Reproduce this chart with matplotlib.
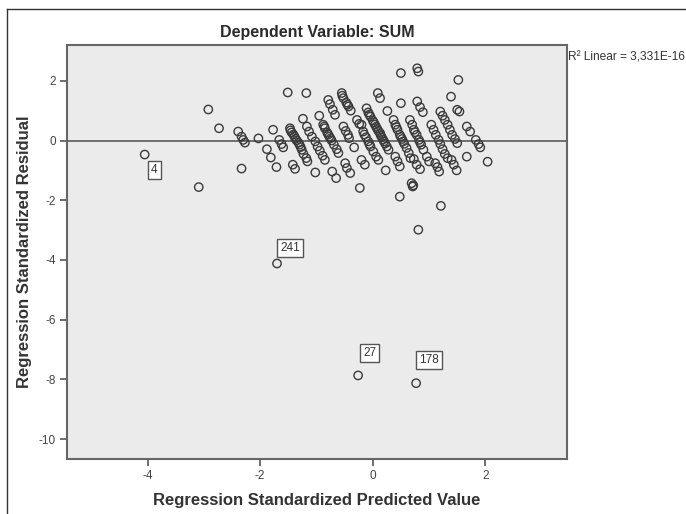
import matplotlib
matplotlib.use('Agg')
import matplotlib.pyplot as plt
from matplotlib.lines import Line2D

#DATA
PRED = [-4.05, -3.09, -2.92, -2.73, -2.39, -2.33, -2.30, -2.27, -2.33, -2.03,
        -1.88, -1.81, -1.71, -1.77, -1.66, -1.62, -1.59, -1.51, -1.18, -1.42, -1.38,
        -1.47, -1.44, -1.39, -1.35, -1.30, -1.26, -1.23, -1.18, -1.16,
        -1.46, -1.41, -1.37, -1.32, -1.28,
        -1.24,
        -1.17, -1.13, -1.08, -1.02, -0.98, -0.94, -0.89, -0.85,
        -1.02, -0.95,
        -0.79, -0.76, -0.71, -0.67,
        -0.88, -0.85, -0.81, -0.77, -0.73, -0.69, -0.64, -0.61, -0.86, -0.79, -0.75,
        -0.72, -0.65,
        -0.55, -0.52, -0.47, -0.43, -0.39, -0.54, -0.45,
        -0.52, -0.48, -0.44, -0.42,
        -0.33,
        -0.49, -0.46, -0.40,
        -0.23,
        -0.28, -0.24,
        -0.11, -0.08, -0.04, 0.00, 0.04, 0.08, 0.13, 0.16, 0.20, 0.25, 0.28,
        -0.06, 0.02, 0.06, 0.10, 0.14, 0.18, 0.22,
        -0.20, -0.17, -0.12, -0.08, -0.04, 0.01, 0.06, 0.10, -0.15, -0.06,
        -0.20, -0.14,
        0.09, 0.13, 0.26, 0.23,
        0.37, 0.40, 0.44, 0.48, 0.52, 0.56, 0.60, 0.64, 0.67, 0.42, 0.50, 0.54,
        0.40, 0.44, 0.48,
        0.50, 0.50, 0.79, 0.81, 0.48,
        0.66, 0.70, 0.73, 0.78, 0.82, 0.86, 0.90, 0.96, 1.00, 0.75, 0.84,
        0.73, 0.78, 0.84,
        0.79, 0.84, 0.89,
        0.69, 0.71, 0.72,
        1.04, 1.08, 1.12, 1.17, 1.20, 1.24, 1.28, 1.33,
        1.11, 1.15, 1.18,
        1.20, 1.24, 1.28, 1.33, 1.37, 1.41, 1.46, 1.50,
        1.39, 1.52, 1.50, 1.54,
        1.40, 1.44, 1.49,
        1.67, 1.73, 1.67,
        1.83, 1.88, 1.91, 2.04,
        0.81, 1.21,
        -1.70, -0.26, 0.77]

RESID = [-0.47, -1.56, 1.04, 0.41, 0.30, 0.13, 0.02, -0.07, -0.94, 0.07,
         -0.29, -0.57, -0.89, 0.36, 0.02, -0.12, -0.23, 1.61, 1.59, -0.81, -0.95,
         0.41, 0.27, 0.13, 0.00, -0.14, -0.31, -0.45, -0.59, -0.70,
         0.34, 0.20, 0.06, -0.07, -0.22,
         0.73,
         0.47, 0.30, 0.13, -0.03, -0.20, -0.34, -0.51, -0.65,
         -1.07, 0.83,
         1.36, 1.22, 1.03, 0.86,
         0.53, 0.41, 0.27, 0.13, 0.00, -0.14, -0.29, -0.42, 0.47, 0.20, 0.07,
         -1.04, -1.26,
         1.59, 1.42, 1.27, 1.14, 1.00, 1.50, 1.20,
         0.47, 0.32, 0.19, 0.08,
         -0.23,
         -0.76, -0.92, -1.09,
         -1.59,
         0.69, 0.56,
         1.08, 0.94, 0.80, 0.67, 0.53, 0.39, 0.25, 0.11, -0.03, -0.20, -0.31,
         0.87, 0.60, 0.46, 0.32, 0.18, 0.04, -0.10,
         0.53, 0.30, 0.11, -0.03, -0.20, -0.37, -0.54, -0.65, 0.20, -0.12,
         -0.65, -0.81,
         1.59, 1.42, 0.99, -1.00,
         0.69, 0.53, 0.36, 0.19, 0.05, -0.11, -0.25, -0.42, -0.59, 0.45, 0.12, -0.03,
         -0.54, -0.70, -0.87,
         2.26, 1.25, 2.42, 2.31, -1.88,
         0.69, 0.53, 0.36, 0.19, 0.02, -0.14, -0.31, -0.54, -0.70, 0.28, -0.06,
         -0.62, -0.81, -0.96,
         1.31, 1.12, 0.95,
         -1.43, -1.54, -1.50,
         0.53, 0.36, 0.19, 0.02, -0.12, -0.29, -0.45, -0.59,
         -0.76, -0.89, -1.04,
         0.97, 0.83, 0.69, 0.53, 0.36, 0.19, 0.05, -0.09,
         1.47, 2.03, 1.03, 0.97,
         -0.65, -0.81, -1.00,
         0.47, 0.30, -0.54,
         0.02, -0.12, -0.23, -0.71,
         -2.99, -2.19,
         -4.12, -7.87, -8.13]

#labelled cases: (case id, predicted, residual)
CASE_IDS = ['4', '241', '27', '178']
CASE_X = [-4.05, -1.70, -0.26, 0.77]
CASE_Y = [-0.47, -4.12, -7.87, -8.13]

X_TICKS = [-4, -2, 0, 2]
Y_TICKS = [2, 0, -2, -4, -6, -8, -10]

TITLE = 'Dependent Variable: SUM'
R2_TEXT = 'R\u00b2 Linear = 3,331E-16'

plt.rcParams['font.family'] = ['Liberation Sans', 'DejaVu Sans']
plt.rcParams['axes.unicode_minus'] = False

W, H = 686, 514
fig = plt.figure(figsize=(W/100, H/100), dpi=100)
ax = fig.add_axes([67/W, 1 - 459/H, 500/W, 414/H])
ax.set_facecolor('#ebebeb')

#scatter of residuals
ax.scatter(PRED, RESID, s=36, facecolors='none', edgecolors='#3a3a3a', linewidths=1.0, zorder=3)

#fit line (R2 ~ 0, flat at zero)
ax.axhline(0, color='#666666', lw=1.3, zorder=2)

#case labels in little boxes
offsets = [(7, -11), (9.5, 11), (8.5, 16), (9.5, 16.5)]
for cid, cx, cy, off in zip(CASE_IDS, CASE_X, CASE_Y, offsets):
    ax.annotate(cid, xy=(cx, cy), xytext=off, textcoords='offset points',
                ha='center', va='center', fontsize=8.5, color='#333333', zorder=4,
                bbox=dict(boxstyle='square,pad=0.25', fc='white', ec='#555555', lw=1))

ax.set_xlim(-5.43, 3.45)
ax.set_ylim(-10.67, 3.2)
ax.set_xticks(X_TICKS)
ax.set_yticks(Y_TICKS)
ax.tick_params(direction='out', length=5, width=1.2, color='#555555',
               labelsize=8.5, labelcolor='#444444', pad=3)
for s in ax.spines.values():
    s.set_color('#666666')
    s.set_linewidth(1.5)

ax.set_xlabel('Regression Standardized Predicted Value', fontsize=12, fontweight='bold',
              color='#333333', labelpad=8)
ax.set_ylabel('Regression Standardized Residual', fontsize=12, fontweight='bold',
              color='#333333', labelpad=5)
ax.set_title(TITLE, fontsize=11.5, fontweight='bold', color='#2a2a2a', pad=6)

#R squared note to the right of the plot
fig.text(568/W, 1 - 57/H, R2_TEXT, fontsize=8.6, color='#333333', ha='left', va='center')

#outer frame (top and left edges visible)
fig.add_artist(Line2D([7/W, 7/W], [0, 1 - 9/H], transform=fig.transFigure, color='#333333', lw=1))
fig.add_artist(Line2D([7/W, 1], [1 - 9/H, 1 - 9/H], transform=fig.transFigure, color='#333333', lw=1))

fig.savefig('out.png', dpi=100)
